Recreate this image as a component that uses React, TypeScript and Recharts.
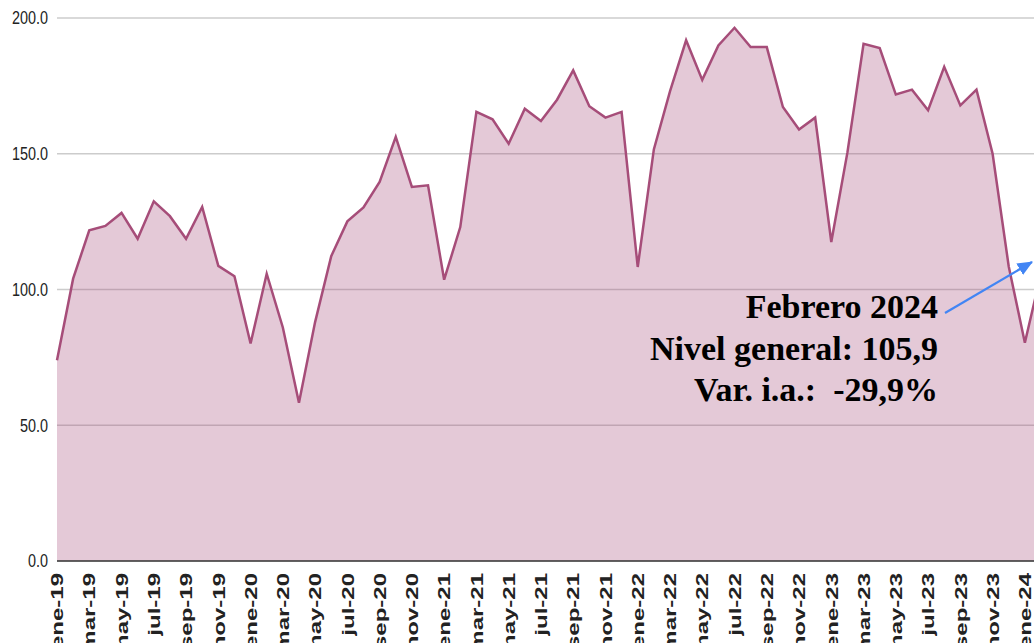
import { AreaChart, Area, XAxis, YAxis, CartesianGrid } from "recharts";

const months = ["ene", "feb", "mar", "abr", "may", "jun", "jul", "ago", "sep", "oct", "nov", "dic"];
const years = ["19", "20", "21", "22", "23", "24"];

const values2019 = [73.9, 104.0, 121.8, 123.4, 128.2, 118.7, 132.5, 127.0, 118.7, 130.4, 108.7, 104.9];
const values2020 = [80.1, 105.8, 86.0, 58.3, 88.0, 112.3, 125.1, 130.2, 139.6, 156.2, 137.8, 138.4];
const values2021 = [103.6, 123.0, 165.4, 162.7, 153.7, 166.6, 162.1, 169.9, 180.7, 167.5, 163.3, 165.4];
const values2022 = [108.3, 151.6, 173.0, 191.8, 177.2, 189.9, 196.4, 189.3, 189.3, 167.2, 158.9, 163.3];
const values2023 = [117.5, 150.5, 190.5, 188.9, 171.8, 173.6, 166.0, 182.0, 167.8, 173.6, 150.0, 108.5];
const values2024 = [80.4, 105.9];

const yTicks = [0, 50, 100, 150, 200];

const annotationLines = ["Febrero 2024", "Nivel general: 105,9", "Var. i.a.:\u00a0 -29,9%"];

const seriesByYear = [values2019, values2020, values2021, values2022, values2023, values2024];
const data = seriesByYear.flatMap((vals, yi) =>
  vals.map((v, mi) => ({ mes: `${months[mi]}-${years[yi]}`, nivel: v }))
);

const LINE = "#a64d79";

function XTick({ x, y, payload }: any) {
  return (
    <g transform={`translate(${x},${y})`}>
      <text
        transform="rotate(-90) scale(1,0.72)"
        textAnchor="end"
        dy="0.36em"
        style={{
          fontFamily: "'Liberation Sans', Arial, sans-serif",
          fontWeight: "bold",
          fontSize: "24px",
          fill: "#222",
        }}
      >
        {payload.value}
      </text>
    </g>
  );
}

function YTick({ x, y, payload }: any) {
  return (
    <g transform={`translate(${x},${y}) scale(0.8,1)`}>
      <text
        textAnchor="end"
        dy="0.36em"
        style={{
          fontFamily: "'Liberation Sans', Arial, sans-serif",
          fontSize: "18px",
          fill: "#222",
        }}
      >
        {Number(payload.value).toFixed(1)}
      </text>
    </g>
  );
}

export default function App() {
  return (
    <div
      style={{
        position: "absolute",
        left: 0,
        top: 0,
        width: 1034,
        height: 643,
        overflow: "hidden",
        background: "#fff",
      }}
    >
      <AreaChart
        width={1100}
        height={643}
        data={data}
        margin={{ top: 18, right: 59, left: 0, bottom: 0 }}
      >
        <CartesianGrid vertical={false} stroke="#cccccc" strokeWidth={1.3} />
        <XAxis
          dataKey="mes"
          interval={1}
          tickLine={false}
          tickSize={0}
          tickMargin={12}
          axisLine={{ stroke: "#3a3a3a", strokeWidth: 1.5 }}
          tick={<XTick />}
          height={82}
        />
        <YAxis
          domain={[0, 200]}
          ticks={yTicks}
          width={57}
          tickLine={false}
          axisLine={false}
          tickSize={0}
          tickMargin={9}
          tick={<YTick />}
        />
        <Area
          type="linear"
          dataKey="nivel"
          stroke={LINE}
          strokeWidth={2.5}
          fill={LINE}
          fillOpacity={0.3}
          isAnimationActive={false}
          dot={false}
          activeDot={false}
        />
      </AreaChart>
      <svg
        width={1034}
        height={643}
        style={{ position: "absolute", left: 0, top: 0, pointerEvents: "none" }}
      >
        <defs>
          <marker id="arrowHead" markerWidth="7" markerHeight="6" refX="6.5" refY="3" orient="auto" markerUnits="strokeWidth">
            <path d="M0,0 L7,3 L0,6 Z" fill="#4285f4" />
          </marker>
        </defs>
        <line x1={945} y1={313} x2={1032} y2={262} stroke="#4285f4" strokeWidth={2.2} markerEnd="url(#arrowHead)" />
        {annotationLines.map((t, i) => (
          <text
            key={t}
            x={938}
            y={318 + i * 41.5}
            textAnchor="end"
            fontFamily="'Liberation Serif', 'Times New Roman', serif"
            fontWeight="bold"
            fontSize={34}
            fill="#000"
          >
            {t}
          </text>
        ))}
      </svg>
    </div>
  );
}
